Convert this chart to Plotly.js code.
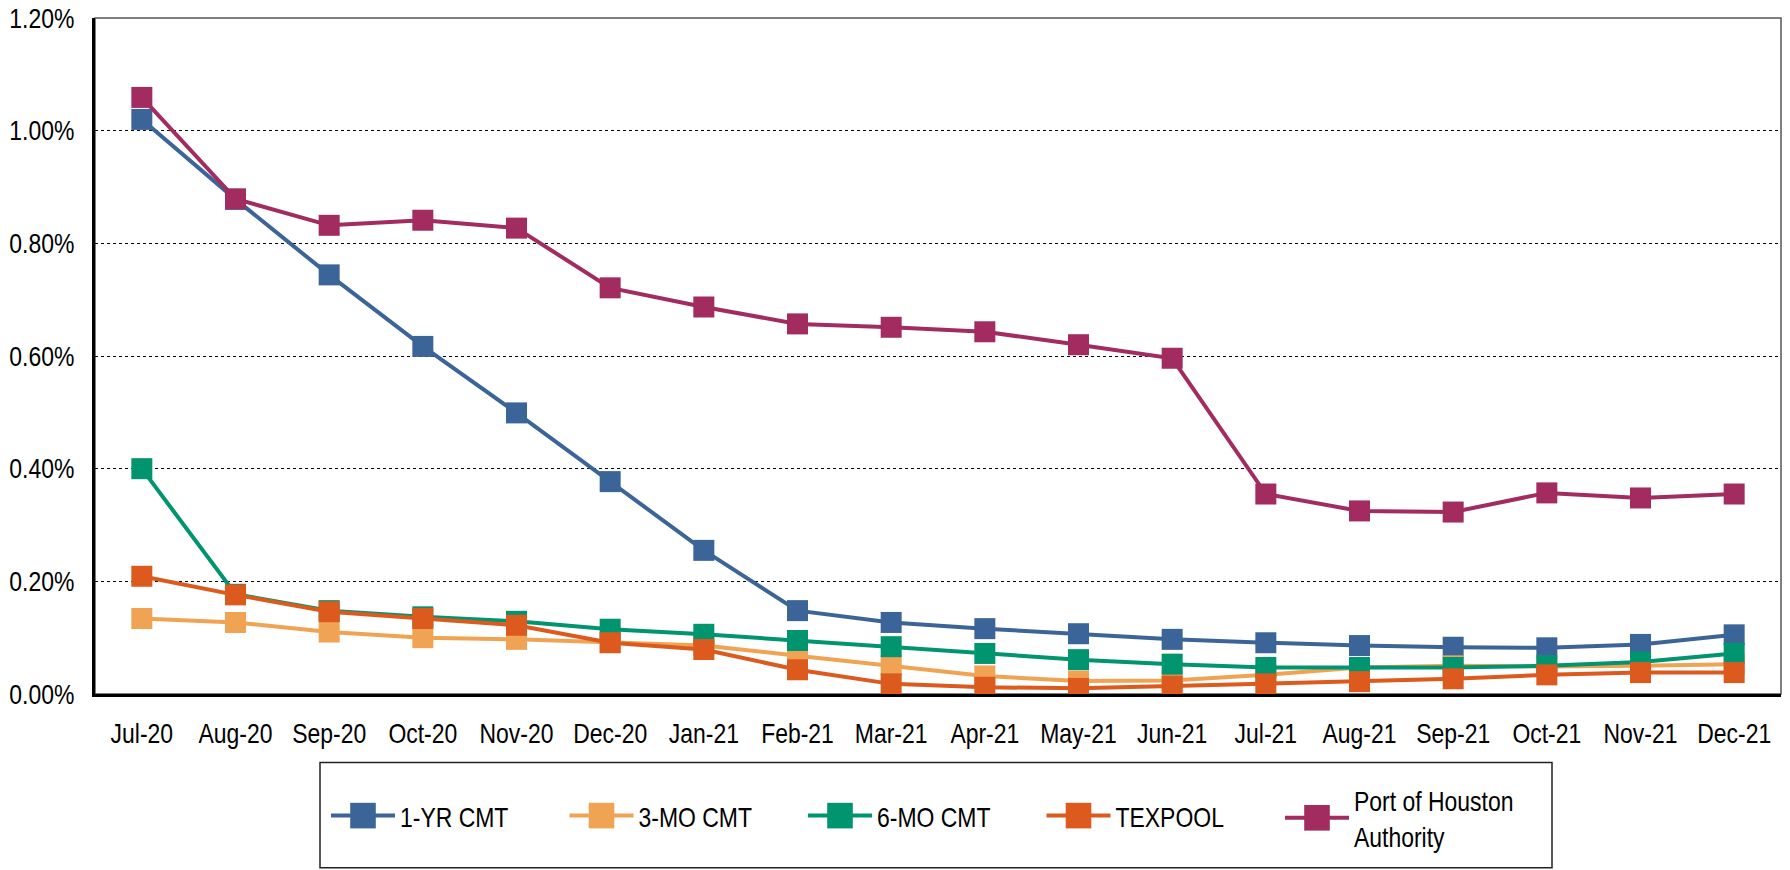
<!DOCTYPE html>
<html>
<head>
<meta charset="utf-8">
<script src="https://cdn.plot.ly/plotly-3.0.1.min.js"></script>
<style>
  html, body { margin: 0; padding: 0; background: #ffffff; }
  #chart { width: 1790px; height: 870px; }
</style>
</head>
<body>
<div id="chart"></div>
<script>
// ---- Data (values in percent) ----
const months = ['Jul-20','Aug-20','Sep-20','Oct-20','Nov-20','Dec-20','Jan-21','Feb-21','Mar-21','Apr-21','May-21','Jun-21','Jul-21','Aug-21','Sep-21','Oct-21','Nov-21','Dec-21'];
const oneYrCmt   = [1.020, 0.878, 0.744, 0.617, 0.499, 0.377, 0.255, 0.148, 0.127, 0.116, 0.107, 0.097, 0.091, 0.086, 0.083, 0.082, 0.088, 0.105];
const threeMoCmt = [0.134, 0.127, 0.110, 0.100, 0.097, 0.092, 0.086, 0.068, 0.050, 0.032, 0.023, 0.024, 0.034, 0.047, 0.050, 0.049, 0.050, 0.053];
const sixMoCmt   = [0.400, 0.177, 0.148, 0.137, 0.129, 0.115, 0.106, 0.095, 0.084, 0.072, 0.061, 0.053, 0.047, 0.047, 0.047, 0.050, 0.057, 0.072];
const texpool    = [0.209, 0.176, 0.146, 0.134, 0.122, 0.091, 0.079, 0.043, 0.018, 0.012, 0.010, 0.014, 0.018, 0.022, 0.027, 0.034, 0.038, 0.038];
const portHouston= [1.059, 0.879, 0.832, 0.841, 0.827, 0.721, 0.687, 0.657, 0.651, 0.643, 0.620, 0.596, 0.355, 0.325, 0.323, 0.357, 0.348, 0.355];
const yTickVals  = [0, 0.2, 0.4, 0.6, 0.8, 1.0, 1.2];
const yTickText  = ['0.00%', '0.20%', '0.40%', '0.60%', '0.80%', '1.00%', '1.20%'];

const seriesNames = ['1-YR CMT', '3-MO CMT', '6-MO CMT', 'TEXPOOL', 'Port of Houston<br>Authority'];
const seriesData  = [oneYrCmt, threeMoCmt, sixMoCmt, texpool, portHouston];
const seriesColors = ['#3B6598', '#F0A453', '#00956F', '#DD5A1F', '#A22B5F'];

const FONT = 'Liberation Sans, Arial, sans-serif';
const FS = 28;          // font size
const NARROW = 0.82;    // horizontal condensing to mimic a narrow face

const traces = seriesData.map((vals, i) => ({
  type: 'scatter',
  mode: 'lines+markers',
  x: months,
  y: vals,
  name: seriesNames[i],
  line: { color: seriesColors[i], width: 4 },
  marker: { symbol: 'square', size: 21, color: seriesColors[i], line: { width: 0 } },
  hoverinfo: 'skip'
}));

// layout geometry (pixels)
const W = 1790, H = 870;
const mL = 95, mR = 9, mT = 17.5, mB = 176;
const plotW = W - mL - mR, plotH = H - mT - mB;
const px2x = p => (p - mL) / plotW;
const py2y = p => (H - mB - p) / plotH;

const layout = {
  width: W, height: H,
  margin: { l: mL, r: mR, t: mT, b: mB, pad: 0 },
  paper_bgcolor: '#ffffff',
  plot_bgcolor: '#ffffff',
  font: { family: FONT, size: FS, color: '#000000' },
  showlegend: true,
  xaxis: {
    type: 'category',
    range: [-0.5, months.length - 0.5],
    showgrid: false,
    zeroline: false,
    showline: true,
    linecolor: '#000000',
    linewidth: 3,
    ticks: '',
    tickangle: 0,
    ticklabelstandoff: 12,
    tickfont: { family: FONT, size: FS, color: '#000000' },
    fixedrange: true
  },
  yaxis: {
    range: [0, 1.2],
    tickmode: 'array',
    tickvals: yTickVals,
    ticktext: yTickText,
    showgrid: true,
    gridcolor: '#000000',
    gridwidth: 1,
    griddash: 'dot',
    zeroline: false,
    showline: true,
    linecolor: '#000000',
    linewidth: 3,
    ticks: '',
    ticklabelstandoff: 12,
    tickfont: { family: FONT, size: FS, color: '#000000' },
    fixedrange: true
  },
  legend: {
    orientation: 'h',
    x: px2x(326),
    xanchor: 'left',
    y: py2y(818),
    yanchor: 'middle',
    entrywidth: 159.5,
    entrywidthmode: 'pixels',
    itemwidth: 64,
    font: { family: FONT, size: FS, color: '#000000' },
    bgcolor: 'rgba(0,0,0,0)',
    borderwidth: 0,
    traceorder: 'normal',
    itemclick: false,
    itemdoubleclick: false
  },
  shapes: [
    { type: 'rect', xref: 'paper', yref: 'paper', x0: 0, x1: 1, y0: 0, y1: 1,
      line: { color: '#555555', width: 1.5 }, fillcolor: 'rgba(0,0,0,0)', layer: 'below' },
    { type: 'rect', xref: 'paper', yref: 'paper',
      x0: px2x(320), x1: px2x(1552), y0: py2y(868), y1: py2y(762.5),
      line: { color: '#222222', width: 1.5 }, fillcolor: 'rgba(0,0,0,0)', layer: 'below' }
  ]
};

function finishStyling(gd) {
  const nodes = gd.querySelectorAll('g.xtick text, g.ytick text, text.legendtext');
  nodes.forEach(t => {
    if (t.getAttribute('data-condensed')) return;
    const x = parseFloat(t.getAttribute('x')) || 0;
    const y = parseFloat(t.getAttribute('y')) || 0;
    const prev = t.getAttribute('transform') || '';
    t.setAttribute('transform', prev + ' translate(' + x + ',' + y + ') scale(' + NARROW + ',1) translate(' + (-x) + ',' + (-y) + ')');
    t.setAttribute('data-condensed', '1');
  });
  // center single-line legend entries on the two-line entry, as in the original
  gd.querySelectorAll('g.legend g.traces').forEach(g => {
    const t = g.querySelector('text.legendtext');
    if (!t || t.querySelectorAll('tspan.line').length > 1) return;
    const prev = g.getAttribute('transform') || '';
    g.setAttribute('transform', prev + ' translate(0,16)');
  });
  // legend square markers as large as in the original
  gd.querySelectorAll('g.legend g.legendpoints path.scatterpts').forEach(p => {
    const prev = p.getAttribute('transform') || '';
    p.setAttribute('transform', prev + ' scale(1.6)');
  });
}

Plotly.newPlot('chart', traces, layout, { displayModeBar: false, staticPlot: true })
  .then(gd => { finishStyling(gd); });
</script>
</body>
</html>
